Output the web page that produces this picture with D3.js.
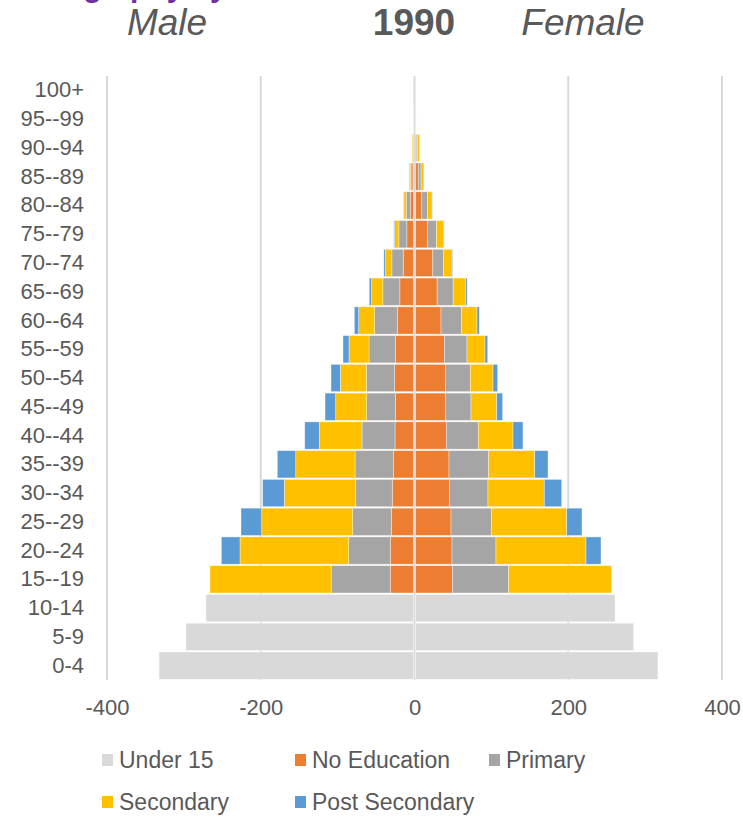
<!DOCTYPE html>
<html>
<head>
<meta charset="utf-8">
<script src="https://cdn.jsdelivr.net/npm/d3@7"></script>
<style>
  html, body { margin: 0; padding: 0; background: #fff; }
  svg { display: block; font-family: "Liberation Sans", Arial, sans-serif; }
</style>
</head>
<body>
<svg id="chart" width="743" height="816"></svg>
<script>
// Age groups, youngest first
const ageGroups = ["0-4", "5-9", "10-14", "15--19", "20--24", "25--29", "30--34", "35--39",
  "40--44", "45--49", "50--54", "55--59", "60--64", "65--69", "70--74", "75--79",
  "80--84", "85--89", "90--94", "95--99", "100+"];

// Population (thousands) by education level, male
const maleUnder15         = [331, 296, 270, 0, 0, 0, 0, 0, 0, 0, 0, 0, 0, 0, 0, 0, 0, 0, 0, 0, 0];
const maleNoEducation     = [0, 0, 0, 30.3, 30.2, 28.9, 27.6, 25.8, 24.1, 23.2, 24.5, 23.2, 20.6, 17.8, 13.4, 8.7, 4.3, 2.0, 0.5, 0.1, 0];
const malePrimary         = [0, 0, 0, 76.8, 54.1, 50.2, 47.6, 50.3, 42.9, 37.7, 36.9, 34.7, 29.9, 22.1, 14.8, 10.4, 5.2, 2.0, 0.5, 0.1, 0];
const maleSecondary       = [0, 0, 0, 157.7, 141.4, 118.4, 92.9, 77.1, 55.5, 40.3, 33.8, 26.0, 20.8, 14.7, 8.2, 5.6, 3.1, 1.5, 1.0, 0.1, 0];
const malePostSecondary   = [0, 0, 0, 0, 24.3, 26.9, 28.1, 24.0, 19.0, 13.9, 12.1, 7.8, 5.7, 3.0, 2.2, 0.9, 0.5, 0.4, 0, 0, 0];

// Population (thousands) by education level, female
const femaleUnder15       = [315.4, 283.8, 259.6, 0, 0, 0, 0, 0, 0, 0, 0, 0, 0, 0, 0, 0, 0, 0, 0, 0, 0];
const femaleNoEducation   = [0, 0, 0, 48.1, 47.5, 46.2, 44.0, 43.6, 40.1, 38.8, 38.8, 37.5, 33.2, 28.2, 22.5, 15.6, 8.2, 3.6, 1.0, 0.2, 0];
const femalePrimary       = [0, 0, 0, 73.0, 57.2, 52.4, 50.3, 51.6, 41.6, 33.4, 32.5, 29.5, 26.9, 20.8, 13.9, 11.7, 7.4, 3.6, 1.5, 0.2, 0];
const femaleSecondary     = [0, 0, 0, 133.9, 117.1, 98.1, 73.2, 59.9, 45.1, 33.4, 29.5, 23.4, 19.9, 16.0, 11.3, 9.5, 6.1, 3.5, 2.5, 0.3, 0];
const femalePostSecondary = [0, 0, 0, 0, 19.5, 19.9, 22.7, 17.3, 13.0, 7.8, 6.1, 3.5, 3.0, 2.2, 0.9, 0.5, 0.3, 0.3, 0.2, 0, 0];

const seriesNames = ["Under 15", "No Education", "Primary", "Secondary", "Post Secondary"];
const seriesColors = ["#D9D9D9", "#ED7D31", "#A5A5A5", "#FFC000", "#5B9BD5"];
const xTicks = [-400, -200, 0, 200, 400];
const yearLabel = "1990";

const maleSeries = [maleUnder15, maleNoEducation, malePrimary, maleSecondary, malePostSecondary];
const femaleSeries = [femaleUnder15, femaleNoEducation, femalePrimary, femaleSecondary, femalePostSecondary];

function buildRows(series) {
  return ageGroups.map((age, i) => {
    const row = { age };
    seriesNames.forEach((name, k) => { row[name] = series[k][i]; });
    return row;
  });
}

const svg = d3.select("#chart");
const textColor = "#595959";
const fontFamily = "'Liberation Sans', Arial, sans-serif";

// Slide title above the chart (runs off the top edge)
svg.append("text")
  .attr("x", 0).attr("y", -3)
  .attr("fill", "#7030A0")
  .attr("font-size", 30).attr("font-weight", "bold")
  .text("Demography by Education");

// Scales
const x = d3.scaleLinear().domain([-400, 400]).range([107, 722]);
const y = d3.scaleBand().domain(ageGroups.slice().reverse()).range([76, 680]).paddingInner(0.05).paddingOuter(0.025);

// Vertical gridlines
svg.append("g").selectAll("line").data(xTicks).join("line")
  .attr("x1", d => x(d)).attr("x2", d => x(d))
  .attr("y1", 76).attr("y2", 680)
  .attr("stroke", "#D9D9D9").attr("stroke-width", 2);

const stack = d3.stack().keys(seriesNames);

function drawSide(series, sign, shift) {
  const stacked = stack(buildRows(series));
  const g = svg.append("g").attr("transform", `translate(${shift},0)`);
  g.selectAll("g").data(stacked).join("g")
    .attr("fill", (d, i) => seriesColors[i])
    .selectAll("rect").data(d => d).join("rect")
      .attr("x", d => Math.min(x(sign * d[0]), x(sign * d[1])))
      .attr("width", d => Math.abs(x(sign * d[1]) - x(sign * d[0])))
      .attr("y", d => y(d.data.age))
      .attr("height", y.bandwidth())
      .attr("stroke", "#ffffff").attr("stroke-opacity", 0.55).attr("stroke-width", 0.7);
}
drawSide(maleSeries, -1, -1);
drawSide(femaleSeries, 1, 1);

// Age axis
const yAxis = svg.append("g").attr("transform", "translate(107,0)")
  .call(d3.axisLeft(y).tickSize(0).tickPadding(23));
yAxis.select(".domain").remove();
yAxis.selectAll("text").attr("font-size", 22).attr("fill", textColor)
  .attr("font-family", fontFamily);

// Value axis (plain hyphen for negatives)
const xAxis = svg.append("g").attr("transform", "translate(0,680)")
  .call(d3.axisBottom(x).tickValues(xTicks).tickSize(0).tickPadding(19).tickFormat(d => String(d)));
xAxis.select(".domain").remove();
xAxis.selectAll("text").attr("font-size", 22).attr("fill", textColor)
  .attr("font-family", fontFamily);

// Headings
svg.append("text").attr("x", 167).attr("y", 35).attr("text-anchor", "middle")
  .attr("font-size", 37).attr("font-style", "italic").attr("fill", textColor).text("Male");
svg.append("text").attr("x", 414).attr("y", 35).attr("text-anchor", "middle")
  .attr("font-size", 37).attr("font-weight", "bold").attr("fill", textColor).text(yearLabel);
svg.append("text").attr("x", 583).attr("y", 35).attr("text-anchor", "middle")
  .attr("font-size", 37).attr("font-style", "italic").attr("fill", textColor).text("Female");

// Legend
const legendPos = [[102, 760], [295, 760], [489, 760], [102, 802], [295, 802]];
const legend = svg.append("g").selectAll("g").data(seriesNames).join("g")
  .attr("transform", (d, i) => `translate(${legendPos[i][0]},${legendPos[i][1]})`);
legend.append("rect").attr("x", 0).attr("y", -6).attr("width", 11).attr("height", 12)
  .attr("fill", (d, i) => seriesColors[i]);
legend.append("text").attr("x", 17).attr("y", 0).attr("dy", "0.35em")
  .attr("font-size", 23).attr("fill", textColor).text(d => d);
</script>
</body>
</html>
